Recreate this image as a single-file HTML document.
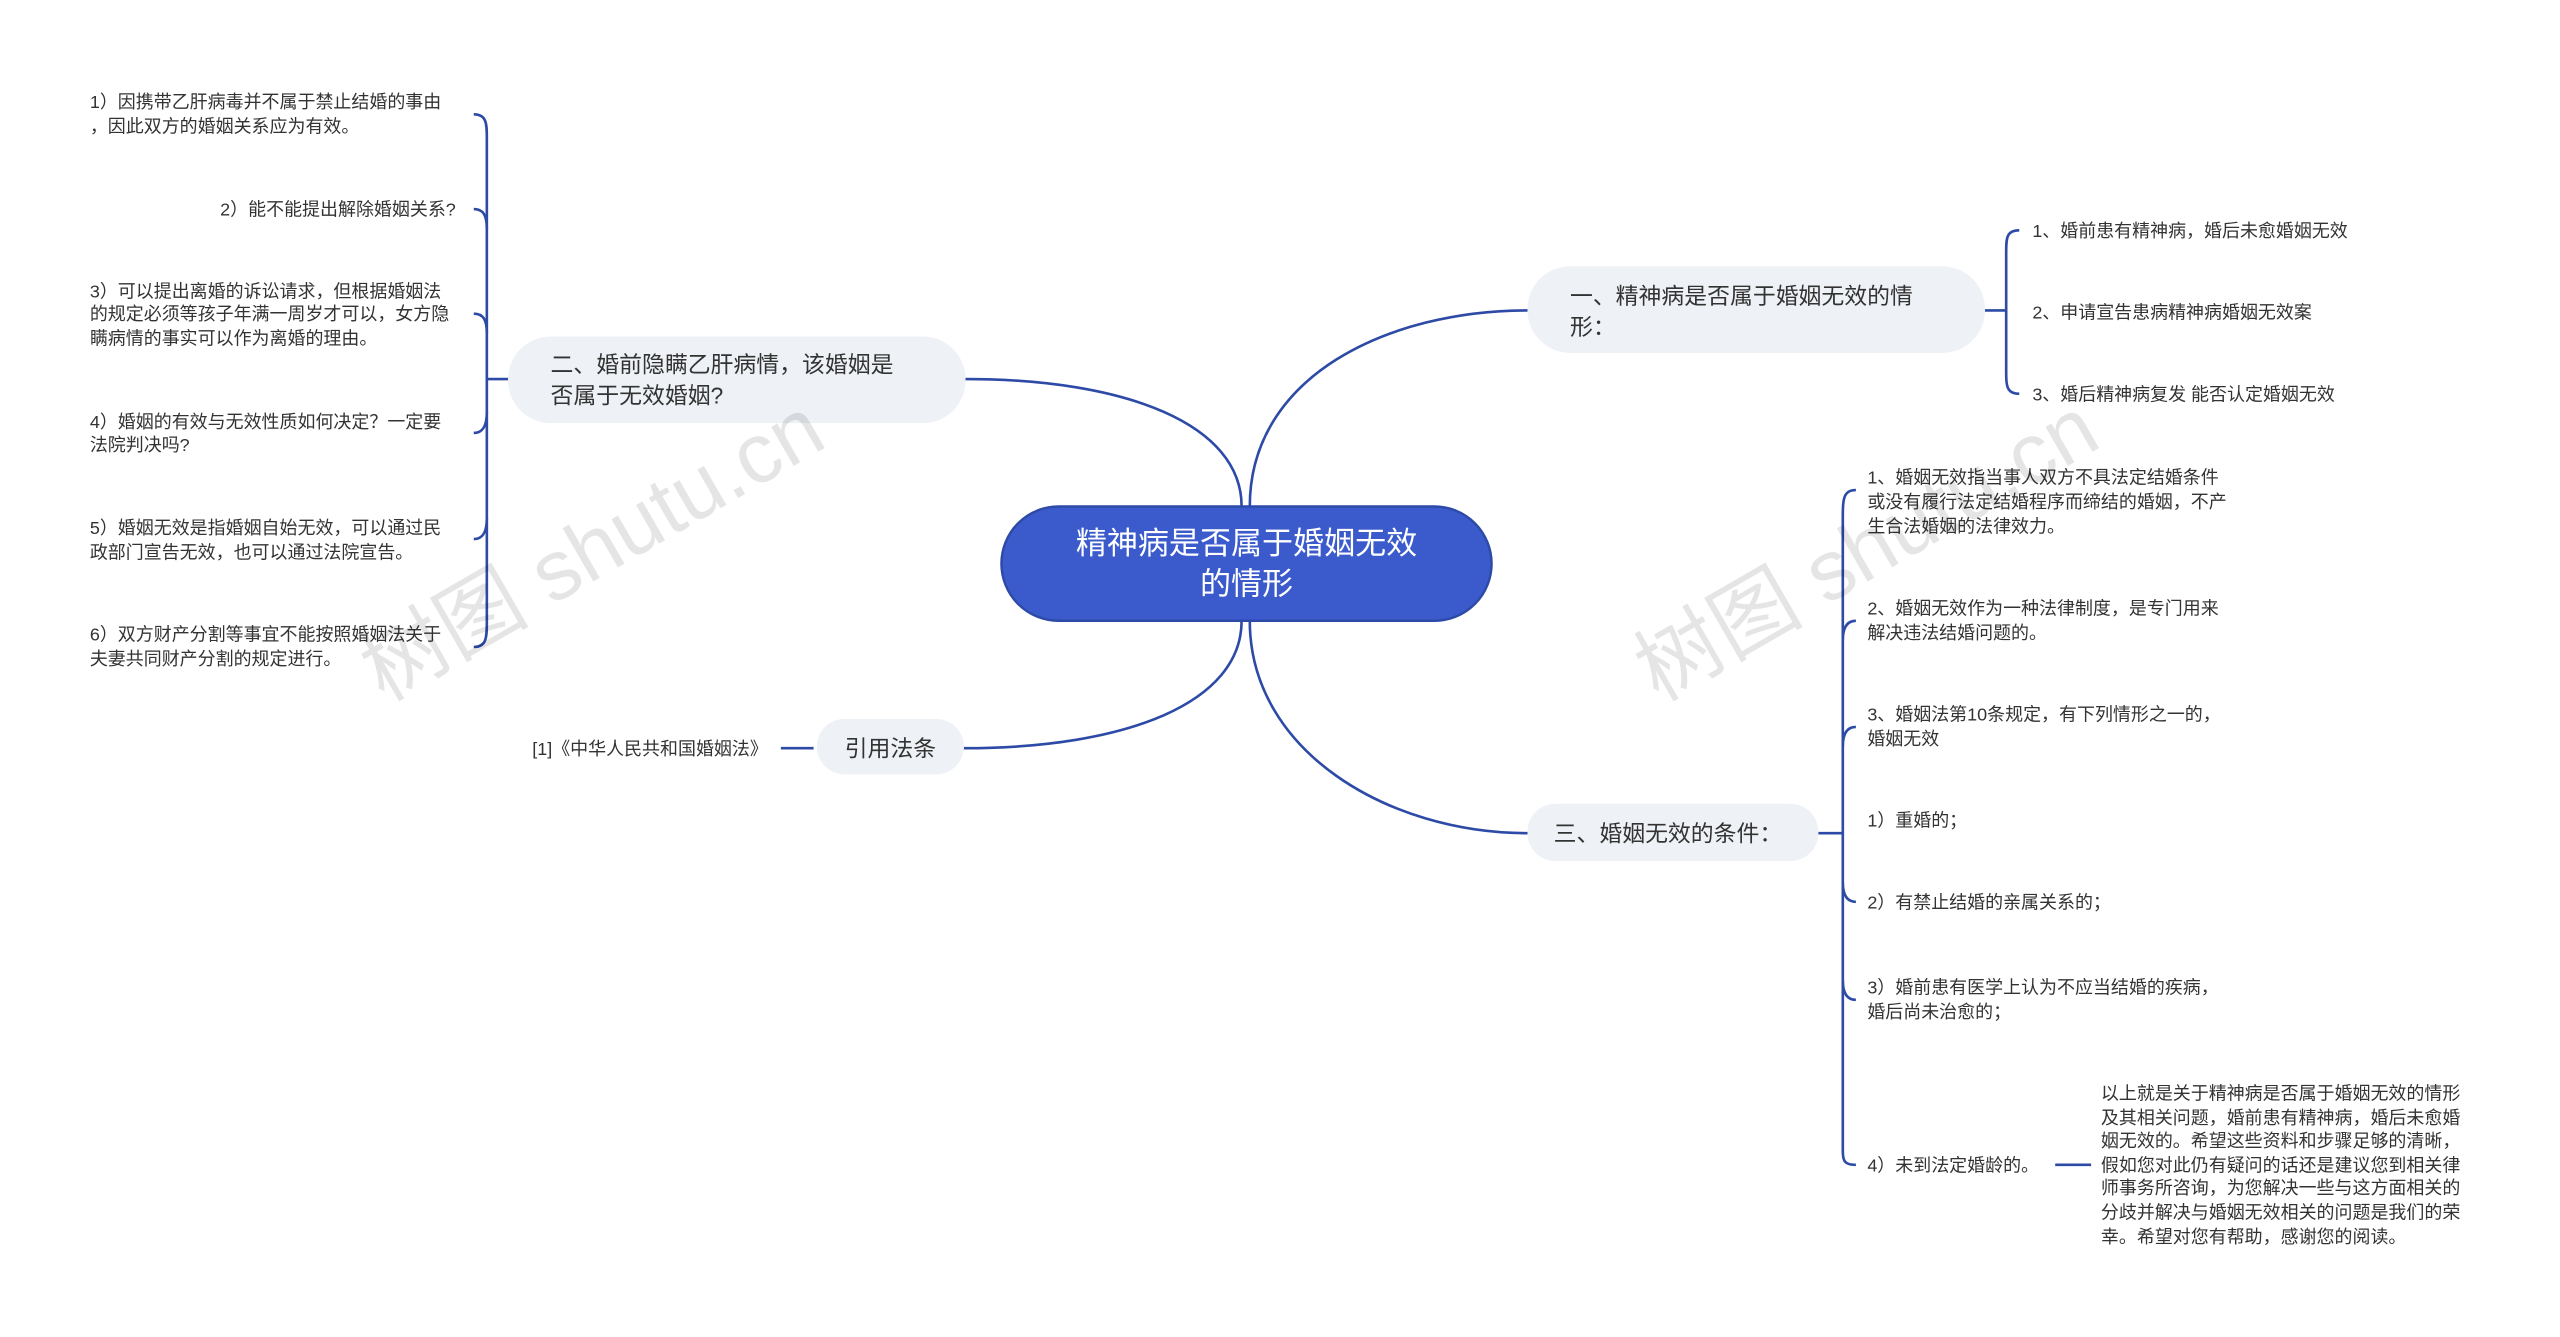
<!DOCTYPE html>
<html><head><meta charset="utf-8"><style>
html,body{margin:0;padding:0;background:#fff;width:2560px;height:1337px;overflow:hidden}
svg text{font-family:"Liberation Sans","Noto Sans CJK SC",sans-serif}
</style></head><body>
<svg width="2560" height="1337" viewBox="0 0 1567 818" preserveAspectRatio="xMinYMin meet" xmlns="http://www.w3.org/2000/svg">
<g fill="none" stroke="#2c4aa6" stroke-width="1.6">
<path d="M765,310 C765,230 850,190 935,190"/>
<path d="M760,310 C760,260 690,232 591,232"/>
<path d="M760,380 C760,430 690,458 590,458"/>
<path d="M765,380 C765,460 850,510 935,510"/>
<path d="M1215,190 H1228"/>
<path d="M1236,141 C1228,141 1228,146 1228,155 V226 C1228,236 1228,241 1236,241"/>
<path d="M311,232 H298"/>
<path d="M290,70 C298,70 298,76 298,85 V380 C298,390 298,396 290,396"/>
<path d="M290,128 C296,128 298,132 298,140"/><path d="M290,192 C296,192 298,196 298,204"/>
<path d="M290,265 C296,265 298,260 298,252"/><path d="M290,330 C296,330 298,325 298,317"/>
<path d="M478,458 H498"/>
<path d="M1113,510 H1128"/>
<path d="M1136,300 C1128,300 1128,306 1128,318 V702 C1128,710 1128,713 1136,713"/>
<path d="M1136,380 C1130,380 1128,385 1128,392"/><path d="M1136,445 C1130,445 1128,450 1128,457"/>
<path d="M1136,552 C1130,552 1128,547 1128,540"/><path d="M1136,612 C1130,612 1128,607 1128,600"/>
<path d="M1258,713 H1280"/>
</g>
<rect x="613" y="310" width="300" height="70" rx="35" fill="#3b5bcd" stroke="#2c4aa6" stroke-width="1.5"/>
<text x="763" y="339" font-size="19" fill="#fff" text-anchor="middle">精神病是否属于婚姻无效</text>
<text x="763" y="364" font-size="19" fill="#fff" text-anchor="middle">的情形</text>
<rect x="935" y="163" width="280" height="53" rx="26" fill="#eef1f5"/>
<text x="961" y="186" font-size="14" fill="#333">一、精神病是否属于婚姻无效的情</text>
<text x="961" y="205" font-size="14" fill="#333">形：</text>
<rect x="311" y="206" width="280" height="53" rx="26" fill="#eef1f5"/>
<text x="337" y="228" font-size="14" fill="#333">二、婚前隐瞒乙肝病情，该婚姻是</text>
<text x="337" y="247" font-size="14" fill="#333">否属于无效婚姻?</text>
<rect x="500" y="440" width="90" height="34" rx="17" fill="#eef1f5"/>
<text x="545" y="463" font-size="14" fill="#333" text-anchor="middle">引用法条</text>
<rect x="935" y="492" width="178" height="35" rx="17" fill="#eef1f5"/>
<text x="951" y="515" font-size="14" fill="#333">三、婚姻无效的条件：</text>
<g font-size="11" fill="#333">
<text x="1244" y="145">1、婚前患有精神病，婚后未愈婚姻无效</text>
<text x="1244" y="195">2、申请宣告患病精神病婚姻无效案</text>
<text x="1244" y="245">3、婚后精神病复发 能否认定婚姻无效</text>
<text x="470" y="462" text-anchor="end">[1]《中华人民共和国婚姻法》</text>
<g text-anchor="start">
<text x="55" y="66">1）因携带乙肝病毒并不属于禁止结婚的事由</text>
<text x="55" y="81">，因此双方的婚姻关系应为有效。</text>
<text x="279" y="132" text-anchor="end">2）能不能提出解除婚姻关系?</text>
<text x="55" y="182">3）可以提出离婚的诉讼请求，但根据婚姻法</text>
<text x="55" y="196">的规定必须等孩子年满一周岁才可以，女方隐</text>
<text x="55" y="211">瞒病情的事实可以作为离婚的理由。</text>
<text x="55" y="262">4）婚姻的有效与无效性质如何决定？一定要</text>
<text x="55" y="276">法院判决吗?</text>
<text x="55" y="327">5）婚姻无效是指婚姻自始无效，可以通过民</text>
<text x="55" y="342">政部门宣告无效，也可以通过法院宣告。</text>
<text x="55" y="392">6）双方财产分割等事宜不能按照婚姻法关于</text>
<text x="55" y="407">夫妻共同财产分割的规定进行。</text>
</g>
<text x="1143" y="296">1、婚姻无效指当事人双方不具法定结婚条件</text>
<text x="1143" y="311">或没有履行法定结婚程序而缔结的婚姻，不产</text>
<text x="1143" y="326">生合法婚姻的法律效力。</text>
<text x="1143" y="376">2、婚姻无效作为一种法律制度，是专门用来</text>
<text x="1143" y="391">解决违法结婚问题的。</text>
<text x="1143" y="441">3、婚姻法第10条规定，有下列情形之一的，</text>
<text x="1143" y="456">婚姻无效</text>
<text x="1143" y="506">1）重婚的；</text>
<text x="1143" y="556">2）有禁止结婚的亲属关系的；</text>
<text x="1143" y="608">3）婚前患有医学上认为不应当结婚的疾病，</text>
<text x="1143" y="623">婚后尚未治愈的；</text>
<text x="1143" y="717">4）未到法定婚龄的。</text>
<text x="1286" y="673">以上就是关于精神病是否属于婚姻无效的情形</text>
<text x="1286" y="688">及其相关问题，婚前患有精神病，婚后未愈婚</text>
<text x="1286" y="702">姻无效的。希望这些资料和步骤足够的清晰，</text>
<text x="1286" y="717">假如您对此仍有疑问的话还是建议您到相关律</text>
<text x="1286" y="731">师事务所咨询，为您解决一些与这方面相关的</text>
<text x="1286" y="746">分歧并解决与婚姻无效相关的问题是我们的荣</text>
<text x="1286" y="761">幸。希望对您有帮助，感谢您的阅读。</text>
</g>
<g font-size="52" fill="rgba(0,0,0,0.1)" font-family="Liberation Serif,Noto Serif CJK SC,serif">
<text transform="translate(235,430) rotate(-30)">树图 shutu.cn</text>
<text transform="translate(1015,430) rotate(-30)">树图 shutu.cn</text>
</g>
</svg>
</body></html>
